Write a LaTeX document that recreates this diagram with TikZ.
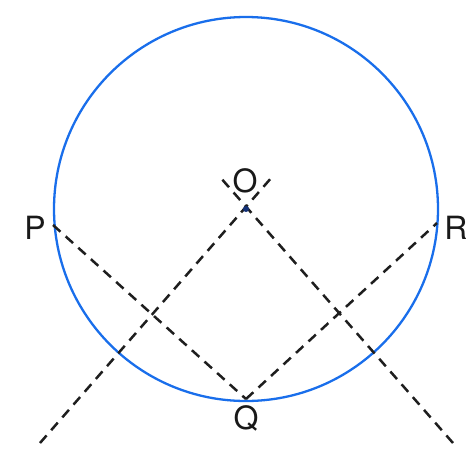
\documentclass[tikz,border=0pt]{standalone}
\usepackage{fontspec}
\setsansfont{TeX Gyre Heros}
\begin{document}
\begin{tikzpicture}[x=1pt,y=-1pt]
\tikzset{
  ring/.style={draw={rgb,255:red,25;green,110;blue,235},line width=2.3pt},
  chord/.style={draw={rgb,255:red,30;green,30;blue,30},line width=2.5pt,dash pattern=on 10pt off 7pt},
  centre/.style={fill={rgb,255:red,20;green,50;blue,120}},
  ptlabel/.style={inner sep=0pt,outer sep=0pt,text={rgb,255:red,25;green,25;blue,25},font=\sffamily\fontsize{32}{38}\selectfont}
}
\path[use as bounding box] (0,0) rectangle (474,459);
% points
\coordinate (O) at (246,209);
\coordinate (P) at (53,225);
\coordinate (R) at (437,223);
\coordinate (Q) at (246,399);
\coordinate (a1) at (40,443);
\coordinate (a2) at (272,177);
\coordinate (b1) at (453,443);
\coordinate (b2) at (220,177);
% circle
\path[ring] (O) circle[radius=192];
% dashed lines
\draw[chord] (a1) -- (a2);
\draw[chord] (b1) -- (b2);
\draw[chord] (P) -- (Q);
\draw[chord] (Q) -- (R);
\path[centre] (O) circle[radius=3];
% labels
\node[ptlabel] (lblO) at (245,181) {O};
\node[ptlabel] (lblP) at (35,228) {P};
\node[ptlabel] (lblR) at (456,228) {R};
\node[ptlabel] (lblQ) at (246,418) {Q};
\end{tikzpicture}
\end{document}
